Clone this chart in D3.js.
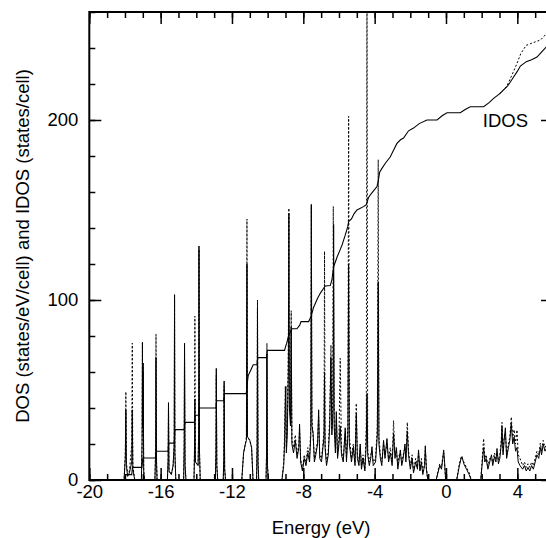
<!DOCTYPE html>
<html>
<head>
<meta charset="utf-8">
<script src="https://cdn.jsdelivr.net/npm/d3@7/dist/d3.min.js"></script>
<style>
  html, body { margin: 0; padding: 0; background: #fff; }
  svg { display: block; }
  text { font-family: "Liberation Sans", Arial, Helvetica, sans-serif; fill: #000; }
</style>
</head>
<body>
<svg id="chart" width="546" height="538"></svg>
<script>
// ---------------- data ----------------
const xTickValues = [-20, -16, -12, -8, -4, 0, 4];
const yTickValues = [0, 100, 200];
const xLabel = "Energy (eV)";
const yLabel = "DOS (states/eV/cell) and IDOS (states/cell)";
const idosLabel = "IDOS";

// DOS, solid curve: [energy (eV), states/eV/cell]
const dosSolid = [
  [-18.4,0],[-18.05,0],[-17.98,12],[-17.95,39],[-17.92,8],[-17.85,2],[-17.75,4],[-17.62,10],[-17.59,39],[-17.56,6],[-17.45,0],
  [-17.08,0],[-17.04,20],[-17.02,76],[-17.0,30],[-16.98,65],[-16.95,5],[-16.9,0],
  [-16.32,0],[-16.28,15],[-16.26,68],[-16.23,10],[-16.2,0],
  [-15.62,0],[-15.58,12],[-15.56,43],[-15.53,5],[-15.4,3],[-15.3,8],[-15.24,20],[-15.22,103],[-15.2,15],[-15.15,0],
  [-14.71,0],[-14.68,20],[-14.66,76],[-14.63,8],[-14.58,0],
  [-14.13,0],[-14.1,15],[-14.08,45],[-14.05,10],[-13.9,8],[-13.87,25],[-13.85,130],[-13.82,15],[-13.78,0],
  [-12.93,0],[-12.9,15],[-12.88,62],[-12.85,8],[-12.8,0],
  [-12.49,0],[-12.46,12],[-12.44,55],[-12.41,6],[-12.36,0],
  [-11.45,0],[-11.35,15],[-11.25,20],[-11.19,22],[-11.16,120],[-11.13,24],[-11.0,22],[-10.9,18],[-10.82,0],
  [-10.62,0],[-10.59,20],[-10.57,95],[-10.54,10],[-10.5,0],
  [-10.09,0],[-10.06,15],[-10.04,70],[-10.01,8],[-9.96,0],
  [-9.2,0],[-9.1,8],[-9.05,20],[-9.01,43],[-8.98,52],[-8.95,15],[-8.9,25],[-8.84,60],[-8.81,148],[-8.78,40],[-8.72,30],[-8.68,85],[-8.64,20],
  [-8.55,15],[-8.45,22],[-8.35,12],[-8.25,18],[-8.21,31],[-8.15,10],[-8.05,5],[-7.95,12],[-7.85,8],[-7.75,15],[-7.65,10],[-7.58,25],
  [-7.55,153],[-7.52,30],[-7.45,26],[-7.38,10],[-7.3,14],[-7.2,20],[-7.14,39],[-7.08,12],[-6.98,10],[-6.9,18],[-6.84,24],[-6.81,60],
  [-6.78,18],[-6.7,8],[-6.6,14],[-6.52,30],[-6.45,68],[-6.4,25],[-6.33,40],[-6.3,142],[-6.27,30],[-6.2,15],[-6.15,38],[-6.08,12],
  [-6.0,20],[-5.93,30],[-5.86,14],[-5.76,10],[-5.65,29],[-5.58,10],[-5.5,25],[-5.46,120],[-5.42,20],[-5.3,10],[-5.2,18],[-5.1,8],
  [-5.03,37],[-4.97,12],[-4.88,8],[-4.81,20],[-4.74,6],[-4.65,12],[-4.55,5],[-4.47,20],[-4.43,48],[-4.39,14],[-4.3,8],[-4.22,12],
  [-4.15,18.5],[-4.08,8],[-3.95,10],[-3.85,25],[-3.8,110],[-3.76,20],[-3.68,12],[-3.6,8],[-3.5,22],[-3.42,12],[-3.31,23],[-3.22,10],
  [-3.12,15],[-3.02,8],[-2.94,26],[-2.86,12],[-2.78,18],[-2.7,6],[-2.62,12],[-2.56,16.7],[-2.48,8],[-2.4,12],[-2.3,20],[-2.25,10],
  [-2.17,27],[-2.1,14],[-2.0,6],[-1.9,12],[-1.82,4],[-1.7,10],[-1.6,6],[-1.54,16.7],[-1.46,5],[-1.38,10],[-1.3,3],[-1.2,8],
  [-1.16,19],[-1.1,6],[-1.02,0],
  [-0.55,0],[-0.45,4],[-0.35,8],[-0.25,6],[-0.18,12],[-0.13,16.7],[-0.08,10],[-0.02,0],
  [0.6,0],[0.75,8],[0.85,12],[0.9,13],[1.0,9],[1.15,6],[1.3,3],[1.42,0],
  [1.95,0],[2.02,8],[2.11,18],[2.18,10],[2.25,12],[2.35,6],[2.45,10],[2.55,14],[2.62,8],[2.72,13],[2.8,10],[2.86,17.5],[2.94,9],
  [3.02,12],[3.1,20],[3.14,29.6],[3.2,14],[3.26,22],[3.33,29],[3.4,12],[3.5,18],[3.58,22],[3.66,31.5],[3.74,20],[3.82,24],[3.9,16],
  [3.98,18],[4.05,10],[4.15,8],[4.3,6],[4.4,8],[4.5,5],[4.6,7],[4.7,5],[4.8,8],[4.9,6],[5.0,10],[5.1,14],[5.2,12],[5.29,18],
  [5.36,14],[5.45,20],[5.55,16],[5.65,18],[5.8,17]
];

// DOS, dashed curve
const dosDashed = [
  [-18.4,0],[-18.05,0],[-17.98,15],[-17.95,49],[-17.92,10],[-17.85,3],[-17.75,5],[-17.62,20],[-17.59,76],[-17.56,8],[-17.45,0],
  [-17.08,0],[-17.04,20],[-17.02,77],[-17.0,25],[-16.98,60],[-16.95,5],[-16.9,0],
  [-16.32,0],[-16.28,20],[-16.26,81],[-16.23,10],[-16.2,0],
  [-15.62,0],[-15.58,10],[-15.56,40],[-15.53,5],[-15.4,3],[-15.3,8],[-15.24,20],[-15.22,100],[-15.2,15],[-15.15,0],
  [-14.71,0],[-14.68,18],[-14.66,72],[-14.63,8],[-14.58,0],
  [-14.13,0],[-14.1,20],[-14.08,91],[-14.05,10],[-13.9,8],[-13.87,25],[-13.85,128],[-13.82,15],[-13.78,0],
  [-12.93,0],[-12.9,15],[-12.88,58],[-12.85,8],[-12.8,0],
  [-12.49,0],[-12.46,12],[-12.44,52],[-12.41,6],[-12.36,0],
  [-11.45,0],[-11.35,15],[-11.25,20],[-11.19,24],[-11.16,145],[-11.13,24],[-11.0,22],[-10.9,18],[-10.82,0],
  [-10.62,0],[-10.59,20],[-10.57,100],[-10.54,10],[-10.5,0],
  [-10.09,0],[-10.06,15],[-10.04,76],[-10.01,8],[-9.96,0],
  [-9.2,0],[-9.1,10],[-9.05,25],[-9.01,52],[-8.98,30],[-8.95,18],[-8.9,30],[-8.84,70],[-8.81,151],[-8.78,45],[-8.72,35],[-8.68,94],
  [-8.64,22],[-8.55,18],[-8.45,25],[-8.35,14],[-8.25,20],[-8.21,28],[-8.15,12],[-8.05,6],[-7.95,14],[-7.85,10],[-7.75,18],[-7.65,12],
  [-7.58,30],[-7.55,153],[-7.52,35],[-7.45,24],[-7.38,12],[-7.3,16],[-7.2,22],[-7.14,35],[-7.08,14],[-6.98,12],[-6.9,20],[-6.84,28],
  [-6.81,127],[-6.78,20],[-6.7,10],[-6.6,16],[-6.52,35],[-6.45,75],[-6.4,28],[-6.35,45],[-6.32,152],[-6.27,35],[-6.2,18],[-6.15,34],
  [-6.08,14],[-6.0,24],[-5.93,67.6],[-5.86,16],[-5.76,12],[-5.65,26],[-5.58,12],[-5.5,30],[-5.46,202],[-5.42,24],[-5.3,12],[-5.2,20],
  [-5.1,10],[-5.03,42.6],[-4.97,14],[-4.88,10],[-4.81,18],[-4.74,8],[-4.65,14],[-4.55,6],[-4.47,30],[-4.43,275],[-4.39,16],[-4.3,10],
  [-4.22,14],[-4.15,16],[-4.08,10],[-3.95,12],[-3.85,30],[-3.8,178],[-3.76,24],[-3.68,14],[-3.6,10],[-3.5,20],[-3.42,14],[-3.31,20],
  [-3.22,12],[-3.12,18],[-3.02,10],[-2.94,33],[-2.86,14],[-2.78,16],[-2.7,8],[-2.62,14],[-2.56,15],[-2.48,10],[-2.4,14],[-2.3,18],
  [-2.25,12],[-2.17,32],[-2.1,16],[-2.0,8],[-1.9,14],[-1.82,5],[-1.7,12],[-1.6,7],[-1.54,15],[-1.46,6],[-1.38,12],[-1.3,4],[-1.2,9],
  [-1.16,17],[-1.1,7],[-1.02,0],
  [-0.55,0],[-0.45,5],[-0.35,9],[-0.25,7],[-0.18,13],[-0.13,15],[-0.08,9],[-0.02,0],
  [0.6,0],[0.75,9],[0.85,13],[0.9,12],[1.0,10],[1.15,7],[1.3,4],[1.42,0],
  [1.95,0],[2.02,10],[2.11,23],[2.18,12],[2.25,14],[2.35,8],[2.45,12],[2.55,12],[2.62,10],[2.72,15],[2.8,12],[2.86,15],[2.94,11],
  [3.02,14],[3.1,22],[3.14,32],[3.2,16],[3.26,24],[3.33,26],[3.4,14],[3.5,20],[3.58,24],[3.66,35],[3.74,24],[3.82,28],[3.9,20],
  [3.98,27.8],[4.05,14],[4.15,12],[4.3,8],[4.4,10],[4.5,7],[4.6,9],[4.7,7],[4.8,10],[4.9,8],[5.0,12],[5.1,16],[5.2,14],[5.29,20.5],
  [5.36,16],[5.45,22],[5.55,18],[5.65,20],[5.8,19]
];

// IDOS, solid curve: [energy (eV), states/cell]
const idosSolid = [
  [-18.2,0],[-18.0,0],[-17.96,3],[-17.62,3],[-17.58,7],[-17.05,7],[-17.0,12.2],[-16.28,12.2],[-16.24,16],[-15.58,16],[-15.55,20.5],
  [-15.24,20.5],[-15.2,28],[-14.68,28],[-14.64,32],[-14.1,32],[-14.06,36],[-13.87,36],[-13.83,40],[-12.9,40],[-12.86,44],[-12.46,44],
  [-12.42,48],[-11.2,48],[-11.14,54],[-11.09,58],[-10.95,61],[-10.81,64],[-10.6,64],[-10.56,68],[-10.06,68],[-10.02,72],[-9.05,72],
  [-9.0,74],[-8.93,76],[-8.83,80],[-8.64,84],[-8.36,84],[-8.2,86],[-8.13,88],[-7.7,88],[-7.56,91],[-7.52,92.6],[-7.42,96],[-7.2,101],
  [-7.05,103.7],[-6.9,106],[-6.77,107.8],[-6.49,108],[-6.4,111],[-6.3,118.5],[-6.1,124],[-5.83,130.5],[-5.65,136],[-5.5,141],
  [-5.46,143.5],[-5.3,145],[-5.15,148],[-4.99,150],[-4.6,152],[-4.47,153],[-4.34,157],[-4.2,159],[-3.87,163],[-3.8,166],[-3.72,171],
  [-3.6,173],[-3.4,176],[-3.12,179.6],[-2.95,183],[-2.75,187],[-2.55,189],[-2.38,190],[-2.1,194],[-1.82,195.5],[-1.5,198],[-1.07,200],
  [-0.5,200],[-0.2,202.5],[0.06,204],[0.8,204],[1.1,206],[1.36,207.4],[2.11,207.4],[2.4,209.5],[2.67,212],[3.0,214.5],[3.2,216.5],
  [3.42,218.5],[3.6,221],[3.8,224],[4.0,227],[4.17,230],[4.5,232.4],[4.8,233.5],[5.1,235],[5.38,238],[5.66,241],[5.8,243]
];

// IDOS, dashed curve (coincides with the solid one below ~3 eV)
const idosDashed = [
  [3.0,214.5],[3.2,216.5],[3.42,219],[3.7,225],[3.98,231.4],[4.2,237],[4.5,241.5],[4.9,243],[5.3,244.5],[5.5,246.5],[5.66,248.5],[5.8,250]
];

// ---------------- drawing ----------------
const svg = d3.select("#chart");
const mLeft = 89.3, mRight = 553, mTop = 12, mBottom = 480;
const x = d3.scaleLinear().domain([-20, 6]).range([mLeft, mRight]);
const y = d3.scaleLinear().domain([0, 260]).range([mBottom, mTop]);

svg.append("defs").append("clipPath").attr("id", "plotclip")
  .append("rect").attr("x", mLeft).attr("y", mTop).attr("width", mRight - mLeft).attr("height", mBottom - mTop);

const plot = svg.append("g").attr("clip-path", "url(#plotclip)");
const line = d3.line().x(d => x(d[0])).y(d => y(d[1]));

plot.append("path").datum(dosDashed).attr("d", line)
  .attr("fill", "none").attr("stroke", "#000").attr("stroke-width", 1).attr("stroke-dasharray", "2,2");
plot.append("path").datum(dosSolid).attr("d", line)
  .attr("fill", "none").attr("stroke", "#000").attr("stroke-width", 1);
plot.append("path").datum(idosDashed).attr("d", line)
  .attr("fill", "none").attr("stroke", "#000").attr("stroke-width", 1).attr("stroke-dasharray", "2,2");
plot.append("path").datum(idosSolid).attr("d", line)
  .attr("fill", "none").attr("stroke", "#000").attr("stroke-width", 1.1);

const fontSize = "18.5px";
const xMinor = d3.range(-20, 7, 1);
const yMinor = d3.range(0, 261, 20);

function styleAxis(g) {
  g.select(".domain").remove();
  g.selectAll(".tick line").attr("stroke", "#000").attr("stroke-width", 1.5);
  g.selectAll("text").attr("font-size", fontSize).attr("font-family", '"Liberation Sans", Arial, sans-serif');
}

// minor ticks
svg.append("g").attr("transform", `translate(0,${mBottom})`)
  .call(d3.axisBottom(x).tickValues(xMinor).tickSize(-6).tickFormat(""))
  .call(styleAxis);
svg.append("g").attr("transform", `translate(0,${mTop})`)
  .call(d3.axisTop(x).tickValues(xMinor).tickSize(-6).tickFormat(""))
  .call(styleAxis);
svg.append("g").attr("transform", `translate(${mLeft},0)`)
  .call(d3.axisLeft(y).tickValues(yMinor).tickSize(-6).tickFormat(""))
  .call(styleAxis);
svg.append("g").attr("transform", `translate(${mRight},0)`)
  .call(d3.axisRight(y).tickValues(yMinor).tickSize(-6).tickFormat(""))
  .call(styleAxis);

// major ticks
svg.append("g").attr("transform", `translate(0,${mBottom})`)
  .call(d3.axisBottom(x).tickValues(xTickValues).tickSize(-12).tickPadding(5).tickFormat(d => String(d)))
  .call(styleAxis);
svg.append("g").attr("transform", `translate(0,${mTop})`)
  .call(d3.axisTop(x).tickValues(xTickValues).tickSize(-12).tickFormat(""))
  .call(styleAxis);
svg.append("g").attr("transform", `translate(${mLeft},0)`)
  .call(d3.axisLeft(y).tickValues(yTickValues).tickSize(-12).tickPadding(11).tickFormat(d => String(d)))
  .call(styleAxis);
svg.append("g").attr("transform", `translate(${mRight},0)`)
  .call(d3.axisRight(y).tickValues(yTickValues).tickSize(-12).tickFormat(""))
  .call(styleAxis);

// frame
svg.append("rect").attr("x", mLeft).attr("y", mTop).attr("width", mRight - mLeft).attr("height", mBottom - mTop)
  .attr("fill", "none").attr("stroke", "#000").attr("stroke-width", 2);

// labels
svg.append("text").attr("x", (mLeft + mRight) / 2).attr("y", 534)
  .attr("text-anchor", "middle").attr("font-size", fontSize).text(xLabel);
svg.append("text").attr("transform", `translate(23,${(mTop + mBottom) / 2}) rotate(-90)`)
  .attr("text-anchor", "middle").attr("dy", "0.35em").attr("font-size", fontSize).text(yLabel);
svg.append("text").attr("x", 528).attr("y", y(200)).attr("dy", "0.36em")
  .attr("text-anchor", "end").attr("font-size", fontSize).text(idosLabel);
</script>
</body>
</html>
